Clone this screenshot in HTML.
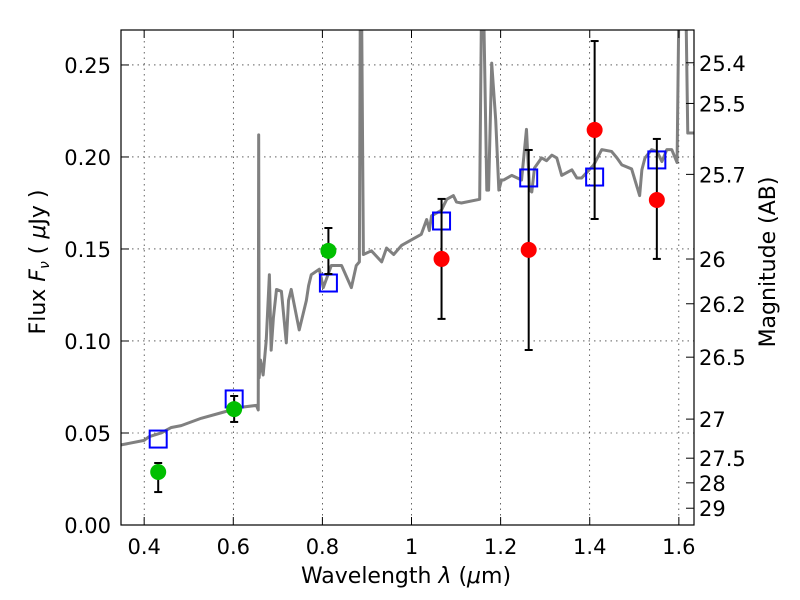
<!DOCTYPE html>
<html><head><meta charset="utf-8"><style>
body{margin:0;background:#fff;}
svg{display:block;font-family:"DejaVu Sans","Liberation Sans",sans-serif;}
</style></head><body>
<svg id="chart" width="800" height="600" viewBox="0 0 800 600" xmlns="http://www.w3.org/2000/svg"></svg>
<script>
const specX=[.348,.4,.411,.438,.461,.483,.528,.573,.618,.652,.656,.657,.658,.661,.667,.674,.681,.685,.69,.697,.708,.719,.724,.73,.748,.764,.769,.775,.793,.802,.82,.843,.865,.876,.883,.885,.888,.892,.91,.933,.944,.96,.978,1.0,1.022,1.034,1.04,1.045,1.067,1.079,1.094,1.101,1.112,1.153,1.157,1.162,1.169,1.173,1.18,1.189,1.196,1.202,1.207,1.225,1.247,1.258,1.265,1.27,1.276,1.292,1.303,1.315,1.326,1.337,1.36,1.371,1.382,1.409,1.427,1.449,1.461,1.472,1.494,1.512,1.517,1.524,1.539,1.551,1.562,1.573,1.584,1.596,1.6,1.603,1.616,1.62,1.634];
const specY=[.0435,.046,.048,.05,.053,.054,.058,.061,.064,.065,.0625,.212,.08,.0897,.0815,.1005,.136,.095,.1125,.128,.127,.099,.122,.128,.106,.122,.13,.136,.139,.129,.141,.141,.129,.141,.143,.28,.28,.147,.149,.143,.1505,.147,.152,.155,.158,.166,.16,.168,.171,.177,.179,.1755,.175,.177,.28,.28,.182,.182,.251,.22,.182,.1875,.1875,.19,.1875,.215,.182,.181,.194,.1995,.198,.201,.1995,.19,.193,.1886,.1886,.1957,.204,.203,.1995,.1957,.1935,.179,.193,.1995,.204,.203,.1975,.204,.204,.197,.28,.28,.28,.213,.213];
const bandX=[.4315,.602,.8135,1.0674,1.263,1.411,1.5506];
const modelY=[.0467,.0685,.1315,.1652,.1886,.1891,.1984];
const obsY=[.0288,.063,.149,.1446,.1495,.2147,.1766];
const errLo=[.0179,.056,.1364,.112,.0951,.1663,.1446];
const errHi=[.0337,.0701,.1614,.1772,.2038,.263,.2098];
const obsColor=['#00bf00','#00bf00','#00bf00','#ff0000','#ff0000','#ff0000','#ff0000'];
const xTicks=[0.4,0.6,0.8,1.0,1.2,1.4,1.6];
const xTickLabels=['0.4','0.6','0.8','1','1.2','1.4','1.6'];
const yTicks=[0,0.05,0.1,0.15,0.2,0.25];
const yTickLabels=['0.00','0.05','0.10','0.15','0.20','0.25'];
const magTicks=[25.4,25.5,25.7,26,26.2,26.5,27,27.5,28,29];

const L=121,R=694,T=30,B=525,X0=0.348,X1=1.634,Y0=0,Y1=0.269;
const sx=v=>L+(v-X0)/(X1-X0)*(R-L);
const sy=v=>B-(v-Y0)/(Y1-Y0)*(B-T);
const NS='http://www.w3.org/2000/svg';
const svg=document.getElementById('chart');
function mk(tag,attrs,parent){const e=document.createElementNS(NS,tag);for(const k in attrs)e.setAttribute(k,attrs[k]);(parent||svg).appendChild(e);return e;}

const defs=mk('defs',{});
const cp=mk('clipPath',{id:'clip'},defs);mk('rect',{x:L,y:T,width:R-L,height:B-T},cp);

const grid=mk('g',{});


xTicks.forEach(v=>mk('line',{x1:sx(v),x2:sx(v),y1:T,y2:B,stroke:'#000','stroke-width':0.6,'stroke-dasharray':'1.5,4'},grid));
yTicks.forEach(v=>mk('line',{x1:L,x2:R,y1:sy(v),y2:sy(v),stroke:'#000','stroke-width':0.6,'stroke-dasharray':'1.5,4'},grid));

const pg=mk('g',{'clip-path':'url(#clip)'});
const sp=mk('polyline',{points:specX.map((x,i)=>sx(x)+','+sy(specY[i])).join(' '),fill:'none',stroke:'#808080','stroke-width':3,'stroke-linejoin':'round'},pg);



bandX.forEach((x,i)=>{
  const r=mk('rect',{x:sx(x)-8.5,y:sy(modelY[i])-8.5,width:17,height:17,fill:'none',stroke:'#0000ff','stroke-width':2},pg);
  
  
});
bandX.forEach((x,i)=>{
  const g=mk('g',{},pg);
  
  
  const X=sx(x);
  mk('line',{x1:X,x2:X,y1:sy(errLo[i]),y2:sy(errHi[i]),stroke:'#000','stroke-width':2},g);
  mk('line',{x1:X-4,x2:X+4,y1:sy(errLo[i]),y2:sy(errLo[i]),stroke:'#000','stroke-width':2},g);
  mk('line',{x1:X-4,x2:X+4,y1:sy(errHi[i]),y2:sy(errHi[i]),stroke:'#000','stroke-width':2},g);
  const c=mk('circle',{cx:X,cy:sy(obsY[i]),r:8,fill:obsColor[i]},pg);
  
  
});

const fr=mk('rect',{x:L,y:T,width:R-L,height:B-T,fill:'none',stroke:'#000','stroke-width':1.2});



xTicks.forEach((v,i)=>{
  mk('line',{x1:sx(v),x2:sx(v),y1:B,y2:B-8,stroke:'#000'});
  mk('line',{x1:sx(v),x2:sx(v),y1:T,y2:T+8,stroke:'#000'});
  const t=mk('text',{x:sx(v),y:554,'font-size':21,'text-anchor':'middle'});
  t.textContent=xTickLabels[i];
  
  
});
yTicks.forEach((v,i)=>{
  mk('line',{x1:L,x2:L+8,y1:sy(v),y2:sy(v),stroke:'#000'});
  const t=mk('text',{x:111,y:sy(v)+8,'font-size':21,'text-anchor':'end'});
  t.textContent=yTickLabels[i];
  
  
});
magTicks.forEach(m=>{
  const f=Math.pow(10,(23.9-m)/2.5);const y=sy(f);
  mk('line',{x1:R,x2:R-8,y1:y,y2:y,stroke:'#000'});
  const t=mk('text',{x:699,y:y+8,'font-size':21});
  t.textContent=String(m);
  
  
});

const xl=mk('text',{x:406,y:583,'font-size':22,'text-anchor':'middle'});
xl.setAttribute('xml:space','preserve');
xl.innerHTML='Wavelength  <tspan font-style="italic">λ</tspan> (<tspan font-style="italic">μ</tspan>m)';



const yl=mk('text',{x:0,y:0,'font-size':22,'text-anchor':'middle',transform:'translate(45,262) rotate(-90)'});
yl.setAttribute('xml:space','preserve');
yl.innerHTML='Flux  <tspan font-style="italic">F</tspan><tspan font-style="italic" font-size="14" dy="4">ν</tspan><tspan dy="-4">  (  </tspan><tspan font-style="italic">μ</tspan>Jy )';



const rl=mk('text',{x:0,y:0,'font-size':22,'text-anchor':'middle',transform:'translate(775,262) rotate(-90)'});
rl.textContent='Magnitude (AB)';


</script>
</body></html>
